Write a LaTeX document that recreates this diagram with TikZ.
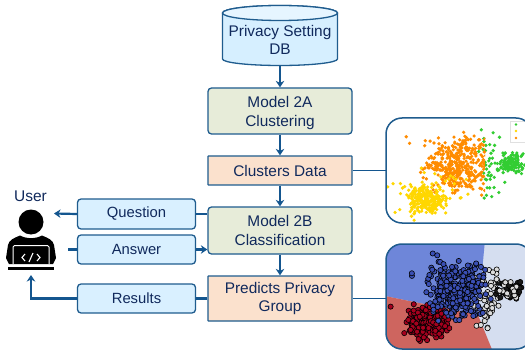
\documentclass[tikz,border=0pt]{standalone}
\usepackage{fontspec}
\setmainfont{Liberation Sans}
\usetikzlibrary{arrows.meta,calc}
\definecolor{edgeblue}{HTML}{1F5C8E}
\definecolor{linkblue}{HTML}{14568F}
\definecolor{inkblue}{HTML}{10295C}
\definecolor{modelfill}{HTML}{E7ECD9}
\definecolor{datafill}{HTML}{FBE1CD}
\definecolor{lightfill}{HTML}{D9F0FF}
\definecolor{dbfill}{HTML}{D6EFFF}
\definecolor{dbtop}{HTML}{E6F5FF}
\definecolor{ptorange}{HTML}{FF8C00}
\definecolor{ptyellow}{HTML}{FFD700}
\definecolor{ptgreen}{HTML}{32CD32}
\definecolor{ptblue}{HTML}{3A4FB5}
\definecolor{ptred}{HTML}{A5001E}
\definecolor{ptwhite}{HTML}{DCDCDC}
\definecolor{ptblack}{HTML}{1A1A1A}
\definecolor{regblue}{HTML}{6E86D9}
\definecolor{regred}{HTML}{CE655F}
\definecolor{reglight}{HTML}{D5DEF0}
\tikzset{
  x=1pt,y=-1pt,
  basebox/.style={draw=edgeblue,line width=1.3pt,rounded corners=3.5pt,align=center,text=inkblue,inner sep=0pt},
  modelbox/.style={basebox,fill=modelfill,minimum width=144pt,minimum height=46pt,font=\fontsize{15.4}{18.5}\selectfont},
  databox/.style={basebox,fill=datafill,rounded corners=0.5pt,minimum width=144pt,font=\fontsize{15.4}{18.5}\selectfont},
  sidebox/.style={basebox,fill=lightfill,minimum width=118pt,minimum height=29pt,font=\fontsize{14.8}{18}\selectfont},
  link/.style={draw=linkblue,line width=2.2pt},
  thinlink/.style={draw=linkblue,line width=1.5pt},
  linkarrow/.style={link,-{Stealth[length=6.5pt,width=8.5pt]}},
  picframe/.style={minimum width=146pt,minimum height=105pt,inner sep=0pt}
}
% cloud: count, cx, cy, sx, sy, style
\newcommand{\dotcloud}[6]{%
  \foreach \n in {1,...,#1}{%
    \pgfmathsetmacro\px{#2+#4*(rand+rand)/1.4}%
    \pgfmathsetmacro\py{#3+#5*(rand+rand)/1.4}%
    \path[#6] (\px,\py) circle[radius=\dotr];%
  }%
}
\begin{document}
\begin{tikzpicture}
\useasboundingbox (0,0) rectangle (525,350);
\fill[white] (0,0) rectangle (525,350);

% database
\path[fill=dbfill,draw=edgeblue,line width=1.3pt]
  (222.5,13) -- (222.5,59) arc[start angle=180,end angle=360,x radius=57.5,y radius=-6.5]
  -- (337.5,13) arc[start angle=0,end angle=180,x radius=57.5,y radius=-7.5] -- cycle;
\path[fill=dbtop,draw=edgeblue,line width=1.3pt] (280,13) ellipse[x radius=57.5,y radius=7.5];
\node[inner sep=0pt,minimum width=116pt,minimum height=61pt] (db) at (280,35) {};
\node[align=center,text=inkblue,font=\fontsize{15.4}{18.5}\selectfont] (dbtext) at (280,40) {Privacy Setting\\DB};

% main column
\node[modelbox] (m2a) at (280,111) {\rule{0pt}{16pt}Model 2A\\[0.5pt]Clustering};
\node[databox,minimum height=29pt] (clusters) at (280,170.5) {Clusters Data};
\node[modelbox,minimum height=47pt] (m2b) at (280,230.5) {Model 2B\\Classification};
\node[databox,minimum height=45pt] (pred) at (280,298.5) {Predicts Privacy\\Group};

% side column
\node[sidebox,minimum height=30pt] (q) at (136.5,214) {Question};
\node[sidebox] (a) at (136.5,249.5) {Answer};
\node[sidebox] (r) at (136.5,298.5) {Results};

% user
\node[text=inkblue,font=\fontsize{15.5}{18}\selectfont,inner sep=0pt] (utext) at (30.5,196) {User};
\coordinate (uq) at (54,213.5);
\coordinate (ua) at (68,249.5);
\coordinate (ur) at (31,275);
\fill[black] (31,222) circle[radius=12.5];
\fill[black] (6,258) -- (8,245) .. controls (9,240) and (14,238) .. (20,235.5)
  .. controls (26,239) and (36,239) .. (42,235.5)
  .. controls (48,238) and (53,240) .. (54,245) -- (56,258) -- (53,264) -- (9,264) -- cycle;
\draw[white,line width=1pt,rounded corners=1.5pt] (13,264) -- (13,245.5) -- (49,245.5) -- (49,264);
\fill[black] (8,267) rectangle (54,269.5);
\draw[white,line width=1.1pt] (25,254) -- (22,257.5) -- (25,261) (37,254) -- (40,257.5) -- (37,261) (33,253) -- (29,262);

% scatter top
\node[picframe] (top) at (459,170.5) {};
\begin{scope}
  \clip[rounded corners=16pt] (386,118) rectangle (532,223);
  \def\dotr{1.8}
  \pgfmathsetseed{4242}
  \dotcloud{130}{511}{163}{11}{8}{fill=ptgreen}
  \dotcloud{40}{491}{165}{11}{30}{fill=ptgreen}
  \begin{scope}
    \clip (380,110) rectangle (485,230);
    \dotcloud{400}{458}{165}{27}{24}{fill=ptorange}
  \end{scope}
  \dotcloud{12}{440}{145}{32}{15}{fill=ptorange}
  \dotcloud{230}{426}{199}{15}{11}{fill=ptyellow}
  \dotcloud{60}{427}{197}{30}{22}{fill=ptyellow}
  \fill[white,draw=black!12,line width=0.6pt] (510,121) rectangle (530,142);
  \fill[ptgreen] (516,124.5) circle[radius=1.3];
  \fill[ptyellow] (516,131) circle[radius=1.3];
  \fill[ptorange] (516,138) circle[radius=1.3];
\end{scope}
\draw[edgeblue,line width=1.5pt,rounded corners=16pt] (386,118) rectangle (532,223);

% scatter bottom
\node[picframe] (bot) at (459,298.5) {};
\begin{scope}
  \clip[rounded corners=16pt] (386,244) rectangle (532,349);
  \fill[reglight] (380,240) rectangle (535,352);
  \fill[regblue] (380,240) -- (485,240) -- (478,315) -- (380,295) -- cycle;
  \fill[regred] (380,295) -- (478,315) -- (493,352) -- (380,352) -- cycle;
  \def\dotr{2.6}
  \pgfmathsetseed{1717}
  \tikzset{bluedot/.style={fill=ptblue,draw=black,line width=0.6pt},
           reddot/.style={fill=ptred,draw=black,line width=0.6pt},
           whitedot/.style={fill=ptwhite,draw=black,line width=0.6pt},
           darkdot/.style={fill=ptblack,draw=black,line width=0.6pt}}
  \dotcloud{50}{488}{295}{11}{26}{whitedot}
  \dotcloud{40}{510}{289}{11}{8}{darkdot}
  \dotcloud{18}{510}{289}{11}{8}{whitedot}
  \dotcloud{240}{427}{323}{17}{13}{reddot}
  \dotcloud{14}{425}{312}{30}{12}{reddot}
  \dotcloud{300}{458}{291}{24}{23}{bluedot}
  \dotcloud{12}{435}{275}{22}{18}{bluedot}
\end{scope}
\draw[edgeblue,line width=1.5pt,rounded corners=16pt] (386,244) rectangle (532,349);

% connectors
\draw[linkarrow] (db.south) -- (m2a.north);
\draw[linkarrow] (m2a.south) -- (clusters.north);
\draw[linkarrow] (clusters.south) -- (m2b.north);
\draw[linkarrow] (m2b.south) -- (pred.north);
\draw[thinlink] (clusters.east) -- (top.west);
\draw[thinlink] (pred.east) -- (bot.west);
\draw[link] (m2b.west |- q.east) -- (q.east);
\draw[linkarrow] (q.west) -- (uq);
\draw[link] (ua) -- (a.west);
\draw[linkarrow] (a.east) -- (m2b.west |- a.east);
\draw[link] (pred.west |- r.east) -- (r.east);
\draw[linkarrow] (r.west) -- (ur |- r.west) -- (ur);
\end{tikzpicture}
\end{document}
